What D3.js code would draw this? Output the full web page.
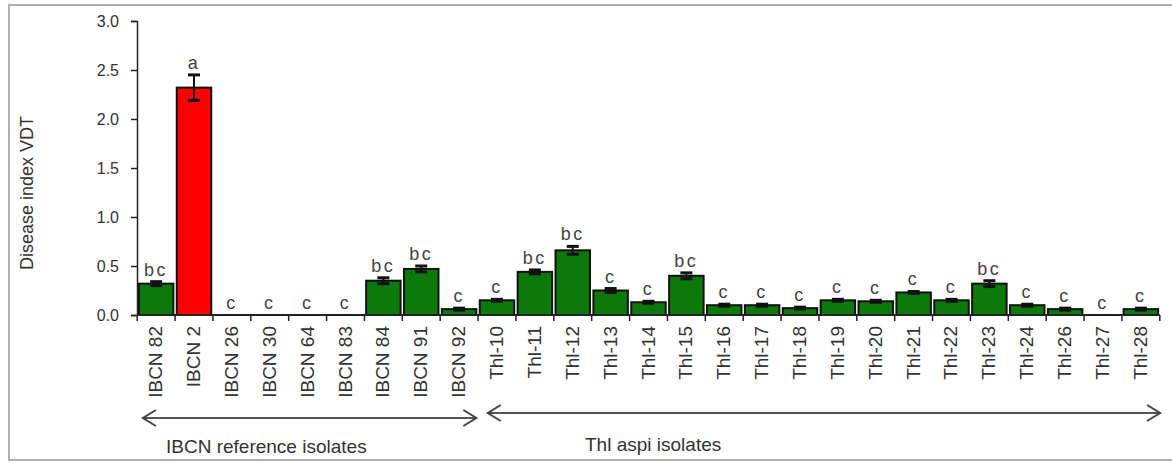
<!DOCTYPE html>
<html>
<head>
<meta charset="utf-8">
<script src="https://cdn.jsdelivr.net/npm/d3@7"></script>
<style>
    body { margin: 0; background: white; }
    svg { font-family: "Liberation Sans", Arial, sans-serif; }
</style>
</head>
<body>
<div id="chart"></div>
<script>
const isolates = ["IBCN 82", "IBCN 2", "IBCN 26", "IBCN 30", "IBCN 64", "IBCN 83", "IBCN 84", "IBCN 91", "IBCN 92",
    "Thl-10", "Thl-11", "Thl-12", "Thl-13", "Thl-14", "Thl-15", "Thl-16", "Thl-17", "Thl-18", "Thl-19",
    "Thl-20", "Thl-21", "Thl-22", "Thl-23", "Thl-24", "Thl-26", "Thl-27", "Thl-28"];

const diseaseIndex = [0.32, 2.32, 0, 0, 0, 0, 0.35, 0.47, 0.06,
    0.15, 0.44, 0.66, 0.25, 0.13, 0.40, 0.10, 0.10, 0.07, 0.15,
    0.14, 0.23, 0.15, 0.32, 0.10, 0.06, 0, 0.06];

const stdErr = [0.02, 0.13, 0, 0, 0, 0, 0.03, 0.03, 0.01,
    0.01, 0.02, 0.04, 0.02, 0.01, 0.03, 0.01, 0.01, 0.01, 0.01,
    0.01, 0.01, 0.01, 0.03, 0.01, 0.01, 0, 0.01];

const letters = ["bc", "a", "c", "c", "c", "c", "bc", "bc", "c",
    "c", "bc", "bc", "c", "c", "bc", "c", "c", "c", "c",
    "c", "c", "c", "bc", "c", "c", "c", "c"];

const groups = [
    { name: "IBCN reference isolates", first: "IBCN 82", last: "IBCN 92" },
    { name: "Thl aspi isolates", first: "Thl-10", last: "Thl-28" }
];

const yTicks = [0, 0.5, 1.0, 1.5, 2.0, 2.5, 3.0];

const data = isolates.map((name, i) => ({
    name: name,
    value: diseaseIndex[i],
    err: stdErr[i],
    letter: letters[i]
}));

const width = 1172;
const height = 463;
const margin = { top: 21, right: 12, bottom: 148, left: 137 };

const svg = d3.select("#chart")
    .append("svg")
    .attr("width", width)
    .attr("height", height);

// outer frame
svg.append("rect")
    .attr("x", 9)
    .attr("y", 5)
    .attr("width", width + 10)
    .attr("height", 455)
    .attr("fill", "none")
    .attr("stroke", "#b0b0b0")
    .attr("stroke-width", 2);

const x = d3.scaleBand()
    .domain(isolates)
    .range([margin.left, width - margin.right])
    .paddingInner(0.09)
    .paddingOuter(0.05);

const y = d3.scaleLinear()
    .domain([0, 3])
    .range([height - margin.bottom, margin.top]);

// bars
svg.selectAll("rect.bar")
    .data(data)
    .enter()
    .append("rect")
    .attr("class", "bar")
    .attr("x", d => x(d.name))
    .attr("y", d => y(d.value))
    .attr("width", x.bandwidth())
    .attr("height", d => y(0) - y(d.value))
    .attr("fill", d => d.name === "IBCN 2" ? "#ff0000" : "#0b7a0b")
    .attr("stroke", "#111")
    .attr("stroke-width", 2);

// error bars
const errData = data.filter(d => d.err > 0);
const cx = d => x(d.name) + x.bandwidth() / 2;

svg.selectAll("line.err")
    .data(errData)
    .enter()
    .append("line")
    .attr("x1", cx)
    .attr("x2", cx)
    .attr("y1", d => y(d.value - d.err))
    .attr("y2", d => y(d.value + d.err))
    .attr("stroke", "#111")
    .attr("stroke-width", 2);

svg.selectAll("line.capTop")
    .data(errData)
    .enter()
    .append("line")
    .attr("x1", d => cx(d) - 6)
    .attr("x2", d => cx(d) + 6)
    .attr("y1", d => y(d.value + d.err))
    .attr("y2", d => y(d.value + d.err))
    .attr("stroke", "#111")
    .attr("stroke-width", 3);

svg.selectAll("line.capBot")
    .data(errData)
    .enter()
    .append("line")
    .attr("x1", d => cx(d) - 6)
    .attr("x2", d => cx(d) + 6)
    .attr("y1", d => y(d.value - d.err))
    .attr("y2", d => y(d.value - d.err))
    .attr("stroke", "#111")
    .attr("stroke-width", 3);

// significance letters
svg.selectAll("text.letter")
    .data(data)
    .enter()
    .append("text")
    .attr("x", cx)
    .attr("y", d => y(d.value + d.err) - 6)
    .attr("text-anchor", "middle")
    .attr("font-size", 18)
    .attr("letter-spacing", 2.5)
    .attr("fill", "#444")
    .text(d => d.letter);

// y axis
const yAxis = svg.append("g")
    .attr("transform", `translate(${margin.left},0)`)
    .call(d3.axisLeft(y).tickValues(yTicks).tickFormat(d3.format(".1f")).tickSize(6).tickPadding(12));

yAxis.select(".domain").attr("stroke", "#222").attr("stroke-width", 1.5);
yAxis.selectAll(".tick line").attr("stroke", "#222").attr("stroke-width", 1.5);
yAxis.selectAll(".tick text")
    .attr("font-size", 16)
    .attr("fill", "#333")
    .attr("font-family", "Liberation Sans, Arial, sans-serif");

// x axis: ticks at category boundaries
const boundaries = isolates.map(d => x(d) - x.step() * x.paddingInner() / 2)
    .concat([x(isolates[isolates.length - 1]) + x.bandwidth() + x.step() * x.paddingInner() / 2]);

svg.append("line")
    .attr("x1", margin.left)
    .attr("x2", boundaries[boundaries.length - 1])
    .attr("y1", y(0))
    .attr("y2", y(0))
    .attr("stroke", "#222")
    .attr("stroke-width", 2);

svg.selectAll("line.xtick")
    .data(boundaries)
    .enter()
    .append("line")
    .attr("x1", d => d)
    .attr("x2", d => d)
    .attr("y1", y(0))
    .attr("y2", y(0) + 6)
    .attr("stroke", "#222")
    .attr("stroke-width", 1.5);

svg.selectAll("text.xlabel")
    .data(isolates)
    .enter()
    .append("text")
    .attr("transform", d => `translate(${x(d) + x.bandwidth() / 2 + 6},${y(0) + 11}) rotate(-90)`)
    .attr("text-anchor", "end")
    .attr("font-size", 19)
    .attr("fill", "#333")
    .text(d => d);

// y axis title
svg.append("text")
    .attr("transform", `translate(33,193) rotate(-90)`)
    .attr("text-anchor", "middle")
    .attr("font-size", 18)
    .attr("fill", "#333")
    .text("Disease index VDT");

// group arrows
const arrowY = [418, 413];
groups.forEach((g, i) => {
    const x1 = x(g.first) + (i === 0 ? 4 : 8);
    const x2 = x(g.last) + x.bandwidth() + (i === 0 ? 0 : 2);
    const ay = arrowY[i];
    svg.append("line")
        .attr("x1", x1)
        .attr("x2", x2)
        .attr("y1", ay)
        .attr("y2", ay)
        .attr("stroke", "#555")
        .attr("stroke-width", 2);
    svg.append("path")
        .attr("d", `M${x1 + 13},${ay - 8} L${x1},${ay} L${x1 + 13},${ay + 8}`)
        .attr("fill", "none")
        .attr("stroke", "#444")
        .attr("stroke-width", 2);
    svg.append("path")
        .attr("d", `M${x2 - 13},${ay - 8} L${x2},${ay} L${x2 - 13},${ay + 8}`)
        .attr("fill", "none")
        .attr("stroke", "#444")
        .attr("stroke-width", 2);
});

svg.append("text")
    .attr("x", 166)
    .attr("y", 453)
    .attr("font-size", 19)
    .attr("fill", "#333")
    .text(groups[0].name);

svg.append("text")
    .attr("x", 585)
    .attr("y", 451)
    .attr("font-size", 19)
    .attr("fill", "#333")
    .text(groups[1].name);
</script>
</body>
</html>
